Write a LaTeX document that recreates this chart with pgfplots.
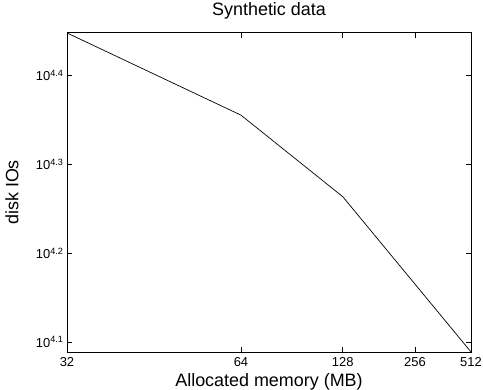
\documentclass[border=0pt]{standalone}
\usepackage{fontspec}
\setmainfont{Liberation Sans}
\usepackage{pgfplots}
\pgfplotsset{compat=1.18}
\begin{document}
\begin{tikzpicture}
\path[use as bounding box] (-67bp,-38bp) rectangle (416bp,352bp);
\begin{axis}[
  scale only axis, width=404bp, height=319bp,
  at={(0bp,0bp)}, anchor=south west,
  xmode=log, ymode=log,
  xmin=1, xmax=5, ymin=12270, ymax=28020,
  xtick={1,2,3,4,5}, xticklabels={32,64,128,256,512},
  ytick={12589.25,15848.93,19952.62,25118.86},
  yticklabels={10\textsuperscript{4.1},10\textsuperscript{4.2},10\textsuperscript{4.3},10\textsuperscript{4.4}},
  minor tick style={draw=none},
  tick align=inside, major tick length=5bp,
  tick style={black, line width=0.6bp},
  axis line style={black, line width=0.9bp},
  ticklabel style={font=\fontsize{13}{15}\selectfont},
  xticklabel style={yshift=-2bp},
  title={Synthetic data},
  title style={font=\fontsize{18}{20}\selectfont, at={(axis description cs:0.5,1.05)}, anchor=center},
  xlabel={Allocated memory (MB)},
  xlabel style={font=\fontsize{18}{20}\selectfont, at={(axis description cs:0.5,-0.093)}, anchor=center},
  ylabel={disk IOs},
  ylabel style={font=\fontsize{18}{20}\selectfont, at={(axis description cs:-0.136,0.5)}, anchor=center},
  clip=false,
]
\addplot[black, line width=0.7bp] coordinates {(1,28020) (2,22650) (3,18340) (5,12270)};
\end{axis}
\end{tikzpicture}
\end{document}
